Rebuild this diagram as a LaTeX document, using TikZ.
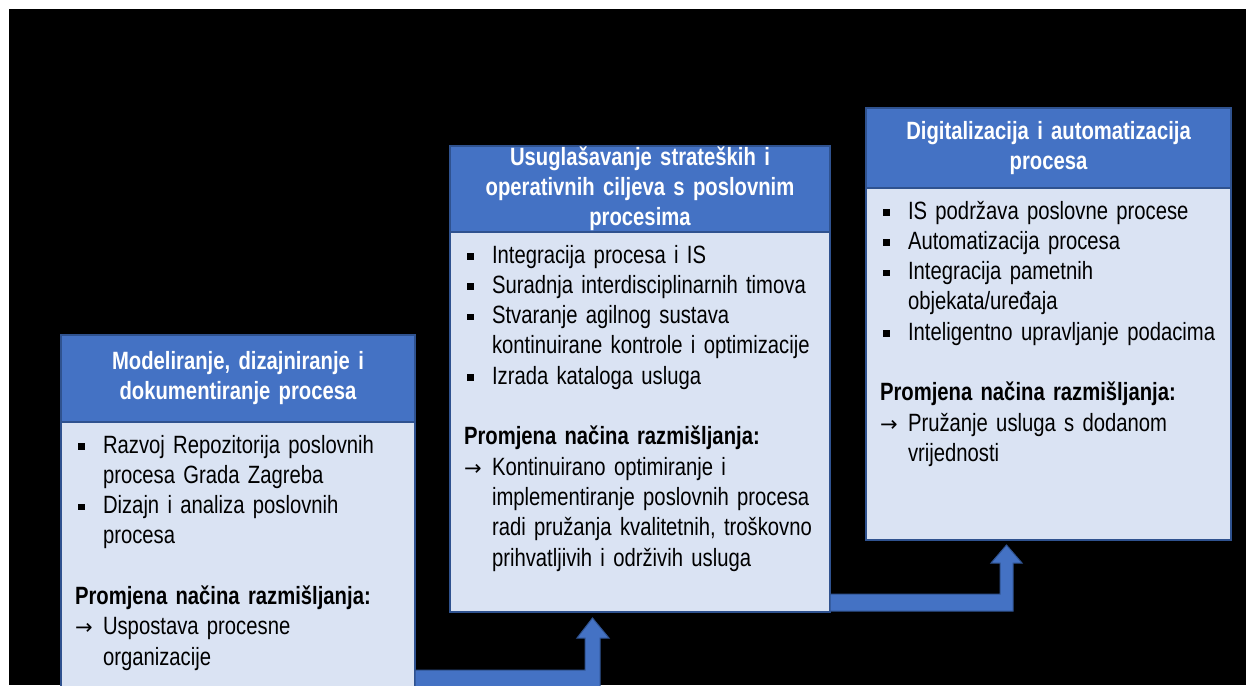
\documentclass[tikz,border=0pt]{standalone}
\usepackage{fontspec}
\setmainfont{Liberation Sans}[FakeStretch=0.81, WordSpace=0.8]
\newfontfamily\symfont{DejaVu Sans}
\usetikzlibrary{positioning}
\definecolor{hdrblue}{HTML}{4472C4}
\definecolor{bodyblue}{HTML}{DAE3F3}
\definecolor{edgeblue}{HTML}{2F528F}
\newcommand{\sqitem}[1]{\noindent\hangindent=28pt\hangafter=1\makebox[28pt][l]{\hspace{3pt}\rule[3.5pt]{6.5pt}{6.5pt}}\strut#1\strut\par}
\newcommand{\aritem}[1]{\noindent\hangindent=28pt\hangafter=1\makebox[28pt][l]{\symfont\fontsize{21}{30}\selectfont →}\strut#1\strut\par}
\newcommand{\mindset}{\noindent\strut\par\noindent\textbf{Promjena načina razmišljanja:}\strut\par}
\tikzset{
	headbox/.style={draw=edgeblue, fill=hdrblue, line width=1.2pt, text=white, font=\bfseries\fontsize{25}{30}\selectfont, align=center, inner xsep=14pt, inner ysep=0pt, outer sep=0pt, anchor=north west},
	bodybox/.style={draw=edgeblue, fill=bodyblue, line width=1.2pt, font=\fontsize{25}{30.3}\selectfont, align=left, inner xsep=14pt, inner ysep=10pt, outer sep=0pt, text height=21pt},
	flow/.style={draw=edgeblue, fill=hdrblue, line width=1pt}
}
\begin{document}
\begin{tikzpicture}[x=1pt, y=-1pt]
	\useasboundingbox (0,0) rectangle (1246,685);
	\clip (0,0) rectangle (1246,685);
	\fill[white] (0,0) rectangle (1246,685);
	\fill[black] (9,9) rectangle (1246,685);
	\node[headbox, text width=326pt, minimum height=87pt] (h1) at (61,335) {Modeliranje, dizajniranje i\\dokumentiranje procesa};
	\node[bodybox, text width=326pt, text depth=237pt, below=0pt of h1] (b1) {%
		\sqitem{Razvoj Repozitorija poslovnih\newline procesa Grada Zagreba}%
		\sqitem{Dizajn i analiza poslovnih\newline procesa}%
		\mindset
		\aritem{Uspostava procesne\newline organizacije}};
	\node[headbox, text width=352pt, minimum height=86pt] (h2) at (450,146) {Usuglašavanje strateških i\\operativnih ciljeva s poslovnim\\procesima};
	\node[bodybox, text width=352pt, text depth=339pt, below=0pt of h2] (b2) {%
		\sqitem{Integracija procesa i IS}%
		\sqitem{Suradnja interdisciplinarnih timova}%
		\sqitem{Stvaranje agilnog sustava\newline kontinuirane kontrole i optimizacije}%
		\sqitem{Izrada kataloga usluga}%
		\mindset
		\aritem{Kontinuirano optimiranje i\newline implementiranje poslovnih procesa\newline radi pružanja kvalitetnih, troškovno\newline prihvatljivih i održivih usluga}};
	\node[headbox, text width=337pt, minimum height=80pt] (h3) at (866,108) {Digitalizacija i automatizacija\\procesa};
	\node[bodybox, text width=337pt, text depth=311pt, below=0pt of h3] (b3) {%
		\sqitem{IS podržava poslovne procese}%
		\sqitem{Automatizacija procesa}%
		\sqitem{Integracija pametnih\newline objekata/uređaja}%
		\sqitem{Inteligentno upravljanje podacima}%
		\mindset
		\aritem{Pružanje usluga s dodanom\newline vrijednosti}};
	\coordinate (t1) at ([xshift=142.5pt, yshift=-6pt]b2.south west);
	\coordinate (t2) at ([xshift=140.5pt, yshift=-5pt]b3.south west);
	\draw[flow] (b1.east |- t1) ++(0,52) -- ++(170,0) -- ++(0,-32) -- ++(-8,0) -- (t1) -- ++(16.5,20) -- ++(-9,0) -- ++(0,60) -- ++(-185,0) -- cycle;
	\draw[flow] (b2.east |- t2) ++(0,49) -- ++(170,0) -- ++(0,-31) -- ++(-9,0) -- (t2) -- ++(15.5,18) -- ++(-9,0) -- ++(0,48) -- ++(-183,0) -- cycle;
\end{tikzpicture}
\end{document}
